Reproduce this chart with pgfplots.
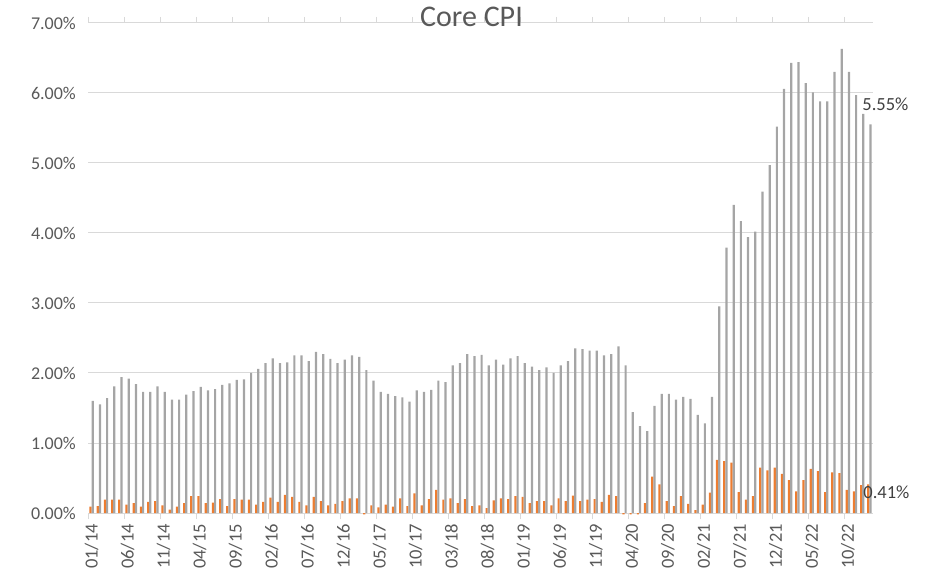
\documentclass[border=0pt]{standalone}
\usepackage{fontspec}
\setmainfont{Carlito}
\usepackage{pgfplots}
\usepackage{pgfplotstable}
\pgfplotsset{compat=1.18}
\definecolor{cpiorange}{HTML}{ED7D31}
\definecolor{cpigray}{HTML}{A5A5A5}
\definecolor{gridgray}{HTML}{D9D9D9}
\definecolor{txtgray}{HTML}{595959}
\definecolor{lblgray}{HTML}{404040}

\pgfplotstableread{
i yoy mom
0 1.60 0.09
1 1.55 0.10
2 1.64 0.19
3 1.81 0.19
4 1.94 0.19
5 1.92 0.12
6 1.84 0.14
7 1.73 0.09
8 1.73 0.16
9 1.81 0.17
10 1.73 0.11
11 1.62 0.05
12 1.62 0.09
13 1.69 0.14
14 1.74 0.24
15 1.80 0.24
16 1.75 0.14
17 1.77 0.15
18 1.83 0.20
19 1.85 0.10
20 1.90 0.20
21 1.91 0.19
22 2.00 0.19
23 2.06 0.12
24 2.14 0.16
25 2.21 0.22
26 2.14 0.16
27 2.15 0.26
28 2.25 0.23
29 2.25 0.16
30 2.17 0.11
31 2.30 0.23
32 2.27 0.17
33 2.20 0.11
34 2.14 0.13
35 2.19 0.17
36 2.25 0.21
37 2.23 0.21
38 2.04 -0.02
39 1.89 0.11
40 1.73 0.08
41 1.70 0.12
42 1.67 0.09
43 1.65 0.21
44 1.59 0.10
45 1.75 0.28
46 1.73 0.11
47 1.76 0.20
48 1.89 0.33
49 1.87 0.19
50 2.11 0.21
51 2.14 0.14
52 2.27 0.20
53 2.24 0.10
54 2.26 0.11
55 2.11 0.07
56 2.19 0.18
57 2.12 0.21
58 2.21 0.20
59 2.24 0.24
60 2.14 0.23
61 2.09 0.14
62 2.04 0.17
63 2.08 0.17
64 2.00 0.11
65 2.11 0.21
66 2.17 0.17
67 2.35 0.25
68 2.34 0.17
69 2.32 0.19
70 2.32 0.20
71 2.25 0.16
72 2.27 0.26
73 2.38 0.24
74 2.11 -0.02
75 1.44 -0.02
76 1.24 -0.02
77 1.17 0.14
78 1.53 0.52
79 1.70 0.41
80 1.70 0.17
81 1.62 0.10
82 1.66 0.24
83 1.63 0.13
84 1.40 0.04
85 1.28 0.12
86 1.66 0.29
87 2.95 0.76
88 3.79 0.74
89 4.40 0.72
90 4.17 0.30
91 3.94 0.19
92 4.02 0.24
93 4.59 0.65
94 4.97 0.61
95 5.52 0.65
96 6.06 0.56
97 6.43 0.47
98 6.44 0.31
99 6.14 0.47
100 6.01 0.63
101 5.88 0.60
102 5.88 0.30
103 6.30 0.58
104 6.63 0.57
105 6.30 0.33
106 5.97 0.31
107 5.70 0.40
108 5.55 0.41
}\cpidata

\begin{document}
\begin{tikzpicture}
\path[use as bounding box] (0pt,0pt) rectangle (933pt,578pt);
\begin{axis}[
  at={(88pt,65pt)}, anchor=south west,
  scale only axis, width=785pt, height=490pt,
  xmin=-0.5, xmax=108.5, ymin=0, ymax=7,
  clip=false,
  ybar=0pt, bar width=2.2pt,
  axis line style={draw=none},
  ymajorgrids, grid style={gridgray, line width=1pt},
  ytick={0,1,...,7},
  yticklabel={\pgfmathprintnumber[fixed,fixed zerofill,precision=2]{\tick}\%},
  /pgf/number format/assume math mode=true,
  xtick={0,5,...,105},
  xticklabels={01/14,06/14,11/14,04/15,09/15,02/16,07/16,12/16,05/17,10/17,03/18,08/18,01/19,06/19,11/19,04/20,09/20,02/21,07/21,12/21,05/22,10/22},
  minor xtick={-0.5,4.5,...,104.5},
  major tick length=0pt, minor tick length=6pt,
  tick align=outside,
  minor tick style={gridgray, line width=1pt},
  xticklabel style={rotate=90, anchor=east, inner sep=0pt, font=\fontsize{18.5}{20}\selectfont, text=txtgray},
  xticklabel shift=11pt,
  yticklabel style={anchor=east, inner sep=0pt, font=\fontsize{18}{20}\selectfont, text=txtgray},
  yticklabel shift=12pt,
]
\addplot[fill=cpiorange, draw=none] table[x=i, y=mom] {\cpidata};
\addplot[fill=cpigray, draw=none] table[x=i, y=yoy] {\cpidata};
\node[font=\fontsize{30}{34}\selectfont, text=txtgray] at (rel axis cs:0.5,1) [xshift=-9pt, yshift=6pt] {Core CPI};
\node[font=\fontsize{18.5}{20}\selectfont, text=lblgray] at (axis cs:108,5.55) [xshift=16pt, yshift=20pt] {5.55\%};
\node[font=\fontsize{18.5}{20}\selectfont, text=lblgray] at (axis cs:108,0.41) [xshift=17pt, yshift=-8pt] {0.41\%};
\end{axis}
\end{tikzpicture}
\end{document}
